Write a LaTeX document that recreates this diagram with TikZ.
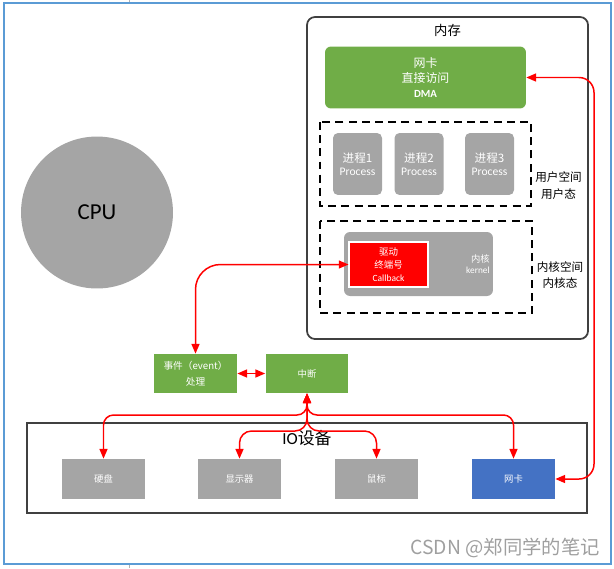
\documentclass[tikz,border=0pt]{standalone}
\usepackage{fontspec}
\setmainfont{Carlito}
\newfontfamily\cjk{Noto Sans CJK SC}
\usepackage{tikz}
\usetikzlibrary{arrows.meta}
\usepackage{xcolor}
\definecolor{nodegreen}{HTML}{70AD47}
\definecolor{nodegray}{HTML}{A5A5A5}
\definecolor{nodeblue}{HTML}{4472C4}
\definecolor{framegray}{HTML}{404040}
\definecolor{frameblue}{HTML}{5B9BD5}
\tikzstyle{redlink} = [red, line width=0.85pt, >={Triangle[length=5.5pt,width=4.5pt]}, <->]
\tikzstyle{greenbox} = [fill=nodegreen, text=white, minimum width=1.66cm, minimum height=0.78cm, inner sep=0pt, align=center]
\tikzstyle{devbox} = [fill=nodegray, text=white, minimum width=1.66cm, minimum height=0.8cm, inner sep=0pt, font=\cjk\fontsize{5.3}{6}\selectfont]
\tikzstyle{procbox} = [fill=nodegray, text=white, rounded corners=0.1cm, minimum width=0.98cm, minimum height=1.24cm, inner sep=0pt, align=center, font=\fontsize{6.6}{7.6}\selectfont]
\tikzstyle{dashbox} = [dash pattern=on 4.5pt off 3pt, line width=0.85pt]
\tikzstyle{spacelabel} = [align=center, inner sep=0pt, font=\cjk\fontsize{6.6}{9.6}\selectfont]

\begin{document}
\begin{tikzpicture}[x=0.02cm, y=-0.02cm]
  \useasboundingbox (0,0) rectangle (614,568);
  % Draw the outer frame
  \draw[frameblue, line width=0.8pt] (4,3) rectangle (611,564);
  \draw[gray!60, line width=0.5pt] (129,0) -- (129,2);
  \draw[gray!60, line width=0.5pt] (129,565) -- (129,568);

  % Draw memory
  \draw[framegray, line width=1pt, rounded corners=0.16cm] (307,17) rectangle (588,339);
  \node (memlabel) at (447.5,30) {\cjk\fontsize{7.6}{9}\selectfont 内存};
  \node[fill=nodegreen, text=white, rounded corners=0.12cm, minimum width=4.02cm, minimum height=1.24cm, inner sep=0pt, align=center, font=\cjk\fontsize{6.8}{8.8}\selectfont] (dma) at (425.5,77.5) {网卡\\直接访问\\{\normalfont\bfseries\fontsize{6.2}{8.8}\selectfont DMA}};

  % Draw user space
  \draw[dashbox] (320,122) rectangle (531,206);
  \node[procbox] (proc1) at (357.5,164) {{\cjk 进程1}\\Process};
  \node[procbox] (proc2) at (419,164) {{\cjk 进程2}\\Process};
  \node[procbox] (proc3) at (489.5,164) {{\cjk 进程3}\\Process};
  \node[spacelabel] (userlabel) at (558.5,185.5) {用户空间\\用户态};

  % Draw kernel space
  \draw[dashbox] (320,221) rectangle (532,313);
  \node[fill=nodegray, rounded corners=0.12cm, minimum width=2.98cm, minimum height=1.28cm, inner sep=0pt] (kern) at (418.5,264) {};
  \node[fill=red, draw=white, line width=0.6pt, text=white, minimum width=1.58cm, minimum height=0.9cm, inner sep=0pt, align=center, font=\fontsize{5.4}{7.4}\selectfont] (cb) at (388.5,264.5) {{\cjk 驱动}\\{\cjk 终端号}\\Callback};
  \node[anchor=east, text=white, align=right, inner sep=0pt, font=\fontsize{5.3}{6.4}\selectfont] (kerntext) at (490,264) {{\cjk 内核}\\kernel};
  \node[spacelabel] (kernlabel) at (560,275) {内核空间\\内核态};

  % Draw CPU
  \node[circle, fill=nodegray, minimum size=3.04cm, inner sep=0pt, font=\fontsize{13}{15}\selectfont] (cpu) at (97,212.5) {CPU};

  % Draw event and interrupt
  \node[greenbox, font=\cjk\fontsize{5.5}{9}\selectfont] (ev) at (195.5,373.5) {事件（event）\\处理};
  \node[greenbox, font=\cjk\fontsize{5.3}{6}\selectfont] (int) at (307,373.5) {中断};

  % Draw IO devices
  \draw[framegray, line width=1.2pt] (27,423) rectangle (587,513);
  \node (iolabel) at (307,438) {\fontsize{9.6}{11}\selectfont IO{\cjk 设备}};
  \node[devbox] (hd) at (103.5,479) {硬盘};
  \node[devbox] (disp) at (239.5,479) {显示器};
  \node[devbox] (mouse) at (376.5,479) {鼠标};
  \node[devbox, fill=nodeblue] (nic) at (513.5,479) {网卡};

  % Draw red connections
  \coordinate (busout) at (307,415);
  \coordinate (busin) at (307,431);
  \coordinate (railR) at (594,77.5);
  \draw[redlink, rounded corners=0.2cm] (int) -- (busout) -| (hd);
  \draw[redlink, rounded corners=0.2cm] (int) -- (busout) -| (nic);
  \draw[redlink, rounded corners=0.24cm] (int) -- (busin) -| (disp);
  \draw[redlink, rounded corners=0.24cm] (int) -- (busin) -| (mouse);
  \draw[redlink] (ev) -- (int);
  \draw[redlink, rounded corners=0.5cm] (cb) -| (ev);
  \draw[redlink, rounded corners=0.3cm] (dma) -- (railR) |- (nic);

  % Watermark
  \node[anchor=east, inner sep=0pt, text=gray!75, font=\cjk\fontsize{11}{13}\selectfont] (mark) at (600,548) {CSDN @郑同学的笔记};
\end{tikzpicture}
\end{document}
